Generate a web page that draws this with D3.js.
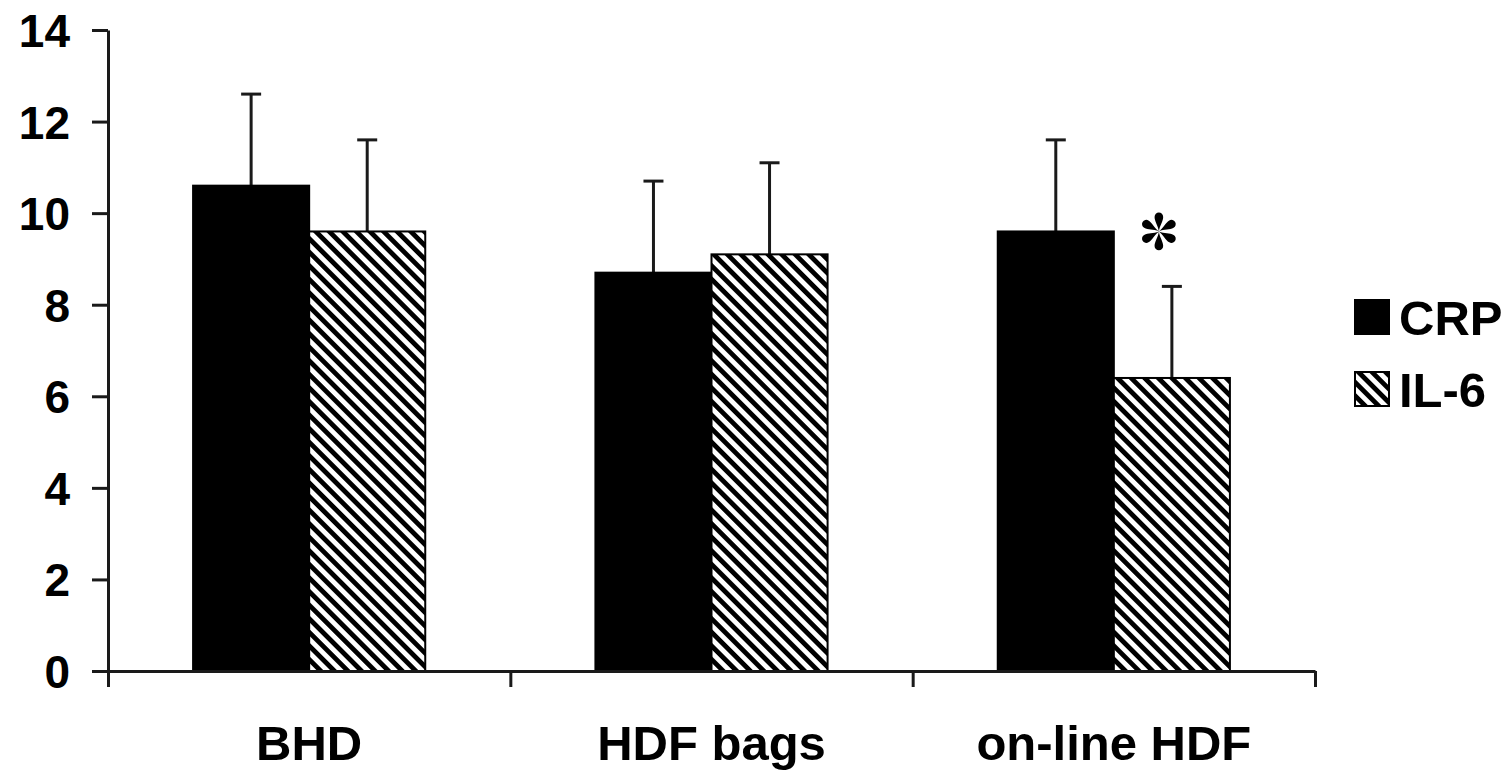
<!DOCTYPE html>
<html>
<head>
<meta charset="utf-8">
<script src="https://cdn.jsdelivr.net/npm/d3@7"></script>
<style>
  body { margin: 0; background: #fff; }
  text { font-family: "Liberation Sans", Arial, sans-serif; font-weight: bold; fill: #000; }
</style>
</head>
<body>
<svg id="chart" width="1510" height="773"></svg>
<script>
const categories = ['BHD', 'HDF bags', 'on-line HDF']
const series = ['CRP', 'IL-6']
const crpMean = [10.6, 8.7, 9.6]
const crpSD = [2.0, 2.0, 2.0]
const il6Mean = [9.6, 9.1, 6.4]
const il6SD = [2.0, 2.0, 2.0]
const yTicks = [0, 2, 4, 6, 8, 10, 12, 14]
// significance marker: on-line HDF, IL-6
const starAt = { category: 'on-line HDF', series: 'IL-6' }

const svg = d3.select('#chart')
const plotLeft = 108, plotRight = 1315, plotTop = 30, plotBottom = 671

const x0 = d3.scaleBand().domain(categories).range([plotLeft, plotRight]).padding(0)
const x1 = d3.scaleBand().domain(series).range([0, x0.bandwidth()])
  .paddingInner(0).paddingOuter(0.733)
const y = d3.scaleLinear().domain([0, 14]).range([plotBottom, plotTop])
const fill = d3.scaleOrdinal().domain(series).range(['#000', 'url(#hatch)'])

// hatch pattern
const defs = svg.append('defs')
defs.append('pattern')
  .attr('id', 'hatch')
  .attr('patternUnits', 'userSpaceOnUse')
  .attr('width', 9.6).attr('height', 9.6)
  .attr('patternTransform', 'rotate(-45)')
  .call(p => {
    p.append('rect').attr('width', 9.6).attr('height', 9.6).attr('fill', '#fff')
    p.append('line').attr('x1', 2.4).attr('x2', 2.4).attr('y1', 0).attr('y2', 9.6)
      .attr('stroke', '#000').attr('stroke-width', 4.8)
  })

const rows = categories.map((c, i) => [
  { cat: c, s: 'CRP', v: crpMean[i], sd: crpSD[i] },
  { cat: c, s: 'IL-6', v: il6Mean[i], sd: il6SD[i] }
])

const g = svg.selectAll('.group')
  .data(rows)
  .enter()
  .append('g')
  .attr('class', 'group')
  .attr('transform', d => 'translate(' + x0(d[0].cat) + ',0)')

// error bars (upper only), drawn under the bars
const err = g.selectAll('.err')
  .data(d => d)
  .enter()
  .append('g')
  .attr('class', 'err')
  .attr('stroke', '#1a1a1a')
  .attr('stroke-width', 3)
err.append('line')
  .attr('x1', d => x1(d.s) + x1.bandwidth() / 2)
  .attr('x2', d => x1(d.s) + x1.bandwidth() / 2)
  .attr('y1', d => y(d.v))
  .attr('y2', d => y(d.v + d.sd))
err.append('line')
  .attr('x1', d => x1(d.s) + x1.bandwidth() / 2 - 10)
  .attr('x2', d => x1(d.s) + x1.bandwidth() / 2 + 10)
  .attr('y1', d => y(d.v + d.sd))
  .attr('y2', d => y(d.v + d.sd))

g.selectAll('.bar')
  .data(d => d)
  .enter()
  .append('rect')
  .attr('class', 'bar')
  .attr('x', d => x1(d.s))
  .attr('width', x1.bandwidth())
  .attr('y', d => y(d.v))
  .attr('height', d => y(0) - y(d.v))
  .attr('fill', d => fill(d.s))
  .attr('stroke', '#000')
  .attr('stroke-width', 2)

// y axis
const yAxis = svg.append('g')
  .attr('transform', 'translate(' + plotLeft + ',0)')
  .call(d3.axisLeft(y).tickValues(yTicks).tickSize(16).tickPadding(22).tickSizeOuter(0))
yAxis.select('.domain').attr('stroke', '#1a1a1a').attr('stroke-width', 3)
yAxis.selectAll('.tick line').attr('stroke', '#1a1a1a').attr('stroke-width', 3)
yAxis.selectAll('.tick text').style('font-size', '46px').attr('dy', '0.36em')

// x axis: ticks at group boundaries
const xb = d3.scaleLinear().domain([0, categories.length]).range([plotLeft, plotRight])
const xAxis = svg.append('g')
  .attr('transform', 'translate(0,' + plotBottom + ')')
  .call(d3.axisBottom(xb).tickValues(d3.range(categories.length + 1)).tickSize(16).tickFormat('').tickSizeOuter(0))
xAxis.select('.domain').attr('stroke', '#1a1a1a').attr('stroke-width', 3)
xAxis.selectAll('.tick line').attr('stroke', '#1a1a1a').attr('stroke-width', 3)

const xLab = svg.append('g')
  .attr('transform', 'translate(0,' + plotBottom + ')')
  .call(d3.axisBottom(x0).tickSize(0).tickPadding(0))
xLab.select('.domain').remove()
xLab.selectAll('.tick text').style('font-size', '49px').attr('y', 89).attr('dy', 0)

// asterisk
const si = categories.indexOf(starAt.category)
const starX = x0(starAt.category) + x1(starAt.series) + x1.bandwidth() / 2 - 13
const starV = il6Mean[si] + il6SD[si]
const star = svg.append('g')
  .attr('transform', 'translate(' + starX + ',' + (y(starV) - 55) + ')')
star.selectAll('path')
  .data(d3.range(6))
  .enter()
  .append('path')
  .attr('d', 'M0,0 C-0.8,-6 -4.3,-10 -4.3,-14.5 A4.3,4.3 0 0 1 4.3,-14.5 C4.3,-10 0.8,-6 0,0Z')
  .attr('transform', d => 'rotate(' + d * 60 + ')')
  .attr('fill', '#000')

// legend
const legend = svg.append('g').attr('transform', 'translate(1355,300)')
const li = legend.selectAll('.li')
  .data(series)
  .enter()
  .append('g')
  .attr('class', 'li')
  .attr('transform', (d, i) => 'translate(0,' + i * 72 + ')')
li.append('rect')
  .attr('width', 34).attr('height', 34)
  .attr('fill', d => fill(d))
  .attr('stroke', '#000').attr('stroke-width', 2)
li.append('text')
  .attr('x', 44).attr('y', 35)
  .style('font-size', '49px')
  .text(d => d)
</script>
</body>
</html>
